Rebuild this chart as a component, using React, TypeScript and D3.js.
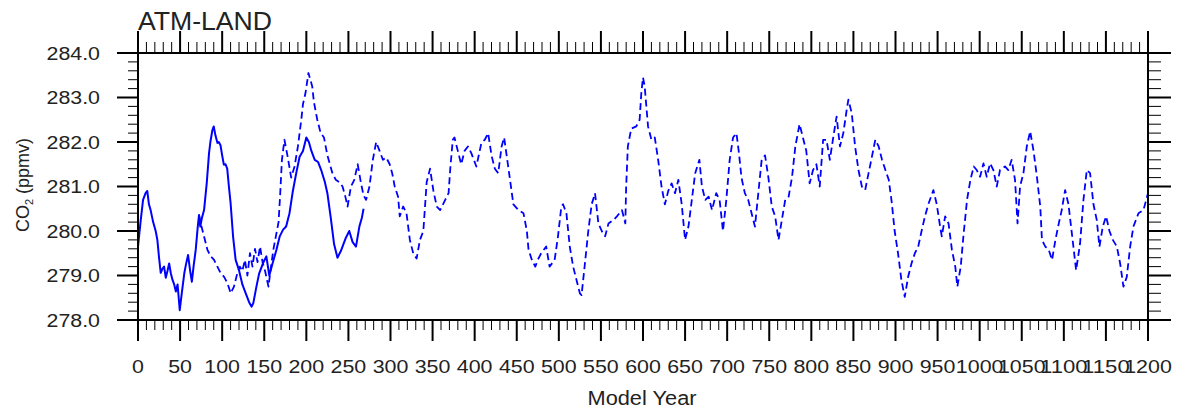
import React from "react";
import * as d3 from "d3";

const title = "ATM-LAND";
const xLabel = "Model Year";
const xTicks = d3.range(0, 1201, 50);
const yTicks = [278, 279, 280, 281, 282, 283, 284];

const solidYears = [0,3,6,9,11,13,15,18,21,23,25,27,29,31,33,35,37,39,41,43,45,47,49.6,52,55,57,59.5,62,64,66,68.6,71,72.5,74,76,78.5,81.7,84.4,86,88.4,90,92,94.4,96,98,100,102,104,106,108,110,113,116,120,124,128,132,135,137,140.7,144,148.6,152.5,156,160,164.5,168.4,172.4,176,180,184,188,192,196,200,203,206,210,214,218,222,225,229,233,237,241,244,247,251,255,259,263,266,268];
const solidCO2 = [279.65,280.2,280.7,280.85,280.9,280.6,280.47,280.2,280.0,279.8,279.4,279.06,279.15,279.2,278.95,279.1,279.27,279.05,278.9,278.8,278.64,278.8,278.22,278.6,279.05,279.25,279.46,279.1,278.86,279.2,279.58,280.1,280.36,280.1,280.3,280.47,281.08,281.75,282.0,282.27,282.35,282.15,281.98,282.0,281.93,281.7,281.49,281.5,281.4,281.0,280.63,279.87,279.35,279.12,278.8,278.6,278.4,278.3,278.38,278.75,279.05,279.28,279.43,279.0,279.28,279.58,279.88,280.03,280.1,280.4,280.9,281.3,281.67,281.8,282.1,282.0,281.8,281.6,281.55,281.35,281.1,280.85,280.3,279.7,279.4,279.55,279.7,279.85,280.0,279.75,279.65,280.1,280.3,280.5];

const dashedYears = [72.5,74.5,78.5,82.5,86.4,90.4,94.3,98.3,102.3,106.2,110.2,114,118,121,124,127,130,133,136,139,142,145,148,151,155,158,161,164,167,169,171,174,178,182,186,190,194,196,199,202.5,207,209,213,217,221,225,228,231,235,239,243,246,249,253,257,261,265,268,271,275,279,283,287,291,295,299,302,305,309,311,315,319,323,327,331,335,339,341,343,347,351,355,359,365,369,371,374,376,380,384,388,392,396,402,408,412,416,420,424,428,432,435,438,442,446,452,458,462,464,468,472,475,479,485,489,495,499,503,505,509,513,517,521,525,527,531,535,539,543,547,551,555,559,565,569,575,579,580,582,586,592,596,598,600,602,604,606,610,614,618,622,626,630,634,638,642,646,650,654,658,662,667,670,674,678,682,687,691,695,699,703,707,711,714,717,721,725,729,733,737,741,745,749,753,757,761,765,769,773,777,781,786,790,794,798,802,806,810,814,818,822,826,830,834,838,842,844,848,852,856,860,864,868,872,876,880,884,888,892,895.5,899,903,907,911,915,919,923,927,931,935,939,945,949,953,955,959,963,967,971,973.5,977.5,981,985,989,993,996.5,1000.5,1004.5,1008.4,1012.4,1016.3,1020.3,1024.2,1030,1034,1038,1042,1045,1048,1052,1056,1060,1064,1068,1072,1074,1078,1082,1086,1090,1094,1097.5,1101.5,1105.5,1109.5,1114.6,1119.3,1123.3,1127.3,1131.2,1135.2,1139.1,1142.3,1146.3,1150.2,1154.2,1158.2,1163,1166.9,1170.8,1174.8,1178.8,1182.7,1188.7,1194.6,1200];
const dashedCO2 = [280.36,280.17,279.875,279.575,279.43,279.35,279.2,279.05,278.97,278.83,278.6,278.75,279.05,279.2,279.1,279.35,279.0,279.5,279.2,279.6,279.3,279.65,279.3,279.1,278.75,279.2,279.6,279.9,280.2,280.85,281.6,282.05,281.65,281.2,281.45,281.9,282.5,282.85,283.1,283.55,283.25,282.9,282.5,282.2,282.1,281.7,281.5,281.3,281.15,281.1,281.0,280.8,280.55,281.0,281.15,281.5,281.07,280.8,280.7,281.0,281.6,282.0,281.8,281.6,281.65,281.5,281.3,281.0,280.77,280.33,280.55,280.4,279.8,279.5,279.38,279.8,280.0,280.55,281.1,281.4,280.9,280.55,280.47,280.7,280.85,281.4,282.05,282.1,281.8,281.5,281.8,281.9,281.75,281.45,281.98,282.05,282.2,281.7,281.4,281.3,281.9,282.1,281.7,281.15,280.6,280.47,280.4,280.0,279.58,279.35,279.2,279.35,279.5,279.65,279.2,279.35,279.88,280.55,280.6,280.4,279.65,279.2,278.9,278.6,278.56,279.27,280.0,280.6,280.85,280.17,280.0,279.88,280.17,280.25,280.33,280.47,280.17,281.0,281.9,282.3,282.35,282.5,283.1,283.45,283.25,282.8,282.35,282.05,282.1,281.6,281.0,280.6,280.9,281.07,280.85,281.15,280.6,279.8,280.1,280.7,281.3,281.6,281.0,280.7,280.77,280.47,280.85,280.7,280.0,280.7,281.6,282.1,282.2,281.75,281.2,280.85,280.7,280.4,280.1,280.85,281.6,281.7,281.2,280.55,280.33,279.8,280.25,280.7,280.77,281.2,281.9,282.4,282.1,281.8,281.07,281.37,281.5,281.0,282.05,282.05,281.6,282.1,282.57,281.9,282.2,282.72,282.95,282.65,281.9,281.37,281.0,280.92,281.3,281.67,282.05,281.9,281.6,281.37,281.15,280.65,280.0,279.5,278.9,278.52,278.97,279.27,279.5,279.65,280.0,280.33,280.6,280.92,280.6,280.1,279.88,280.33,280.17,279.58,279.2,278.75,279.2,279.95,280.7,281.15,281.45,281.37,281.22,281.52,281.22,281.52,281.37,281.0,281.37,281.45,281.37,281.6,281.15,280.17,281.0,281.3,281.9,282.24,281.8,281.22,280.55,279.8,279.65,279.58,279.35,279.8,280.17,280.47,280.92,280.6,279.95,279.12,279.72,280.7,281.37,281.3,280.6,280.25,279.65,280.1,280.33,280.0,279.8,279.65,279.27,278.75,278.97,279.65,280.1,280.4,280.47,280.85];

const W = 1177, H = 408;
const L = 138, R = 1148, T = 53, B = 320;
const FONT = "'Liberation Sans', Arial, Helvetica, sans-serif";

function labelLen(s: string) {
  let n = 0;
  for (const c of s) n += c === "." ? 5.85 : 11.9;
  return n;
}

export default function App() {
  const x = d3.scaleLinear().domain([0, 1200]).range([L, R]);
  const y = d3.scaleLinear().domain([278, 284]).range([B, T]);
  const line = d3.line<[number, number]>().x(d => x(d[0])).y(d => y(d[1]));
  const solid = line(solidYears.map((yr, i) => [yr, solidCO2[i]] as [number, number])) || "";
  const dashed = line(dashedYears.map((yr, i) => [yr, dashedCO2[i]] as [number, number])) || "";
  const xMinor = d3.range(0, 1201, 10).filter(v => v % 50 !== 0);
  const yMinor = d3.range(0, 31).map(i => 278 + i * 0.2).filter((v, i) => i % 5 !== 0);

  return (
    <svg width={W} height={H} style={{ position: "absolute", left: 0, top: 0, background: "#fff" }}>
      <rect x={0} y={0} width={W} height={H} fill="#fff" />
      <g stroke="#000" strokeWidth={1}>
        {xMinor.map(v => (
          <g key={"xm" + v}>
            <line x1={x(v)} x2={x(v)} y1={B} y2={B + 10} />
            <line x1={x(v)} x2={x(v)} y1={T} y2={T - 11} />
          </g>
        ))}
        {yMinor.map((v, i) => (
          <g key={"ym" + i}>
            <line x1={L} x2={L - 10} y1={y(v)} y2={y(v)} />
            <line x1={R} x2={R + 13} y1={y(v)} y2={y(v)} />
          </g>
        ))}
      </g>
      <g stroke="#000" strokeWidth={2}>
        {xTicks.map(v => (
          <g key={"xM" + v}>
            <line x1={x(v)} x2={x(v)} y1={B} y2={B + 21} />
            <line x1={x(v)} x2={x(v)} y1={T} y2={T - 22} />
          </g>
        ))}
        {yTicks.map(v => (
          <g key={"yM" + v}>
            <line x1={L} x2={L - 21} y1={y(v)} y2={y(v)} />
            <line x1={R} x2={R + 23} y1={y(v)} y2={y(v)} />
          </g>
        ))}
      </g>
      <path d={solid} fill="none" stroke="#0000ff" strokeWidth={2} strokeLinejoin="round" />
      <path d={dashed} fill="none" stroke="#0000ff" strokeWidth={1.8} strokeDasharray="7,4" strokeLinejoin="round" />
      <rect x={L} y={T} width={R - L} height={B - T} fill="none" stroke="#000" strokeWidth={2} />
      <g fontFamily={FONT} fontSize={18} fill="#222">
        {xTicks.map(v => {
          const s = String(v);
          return (
            <text key={"xl" + v} x={x(v)} y={373} textAnchor="middle" textLength={labelLen(s)} lengthAdjust="spacingAndGlyphs">{s}</text>
          );
        })}
        {yTicks.map(v => {
          const s = v.toFixed(1);
          return (
            <text key={"yl" + v} x={100} y={y(v) + 6.5} textAnchor="end" textLength={labelLen(s)} lengthAdjust="spacingAndGlyphs">{s}</text>
          );
        })}
      </g>
      <text x={642} y={405} textAnchor="middle" fontFamily={FONT} fontSize={20} fill="#222" textLength={109} lengthAdjust="spacingAndGlyphs">{xLabel}</text>
      <text transform="translate(29,185) rotate(-90)" textAnchor="middle" fontFamily={FONT} fontSize={18} fill="#222">
        CO<tspan fontSize={11} dy={4}>2</tspan><tspan dy={-4}> (ppmv)</tspan>
      </text>
      <text x={138} y={30} fontFamily={FONT} fontSize={25} fill="#222" textLength={134} lengthAdjust="spacingAndGlyphs">{title}</text>
    </svg>
  );
}
